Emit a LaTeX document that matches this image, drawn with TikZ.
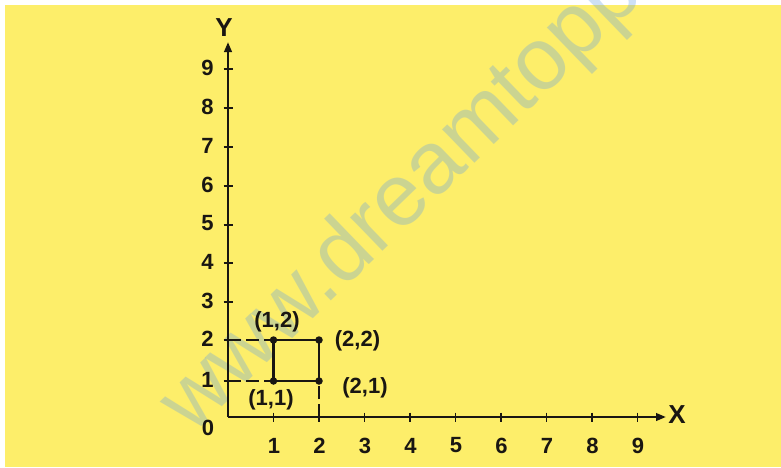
\documentclass[tikz,border=0pt]{standalone}
\usepackage{fontspec}
\setmainfont{Liberation Sans}
\usetikzlibrary{arrows.meta}
\definecolor{bgyellow}{RGB}{253,238,106}
\definecolor{ink}{RGB}{25,22,18}
\definecolor{wmblue}{RGB}{100,160,230}
\begin{document}
\begin{tikzpicture}[x=1pt,y=-1pt,
  wm/.style={text=wmblue, text opacity=0.32, font=\fontsize{88}{88}\selectfont, inner sep=0pt},
  axisline/.style={draw=ink, line width=2.4pt, -{Triangle[length=10pt,width=7.5pt]}},
  tickmark/.style={draw=ink, line width=1.8pt},
  lab/.style={text=ink, font=\bfseries\fontsize{22}{22}\selectfont, inner sep=0pt},
  axlab/.style={text=ink, font=\bfseries\fontsize{26}{26}\selectfont, inner sep=0pt},
  sqline/.style={draw=ink, line width=2.2pt},
  dashline/.style={draw=ink, line width=2pt, dash pattern=on 13pt off 5pt},
  dotnode/.style={circle, fill=ink, inner sep=0pt, minimum size=7.5pt}]
\useasboundingbox (0,0) rectangle (781,467);
\fill[white] (0,0) rectangle (781,467);
\fill[bgyellow] (5,5) rectangle (781,467);
% watermark
\begin{scope}
\clip (0,0) rectangle (781,467);
\node[wm, rotate=44, anchor=base west] (wmark) at (192,436) {www.dreamtoppers.com};
\end{scope}
% axes
\coordinate (O) at (228,417);
\coordinate (ytip) at (228,42);
\coordinate (xtip) at (666,417);
\draw[axisline] (O) -- (ytip);
\draw[axisline] (O) -- (xtip);
\node[axlab] (ylabel) at (224,28) {Y};
\node[axlab] (xlabel) at (677,415) {X};
\node[lab] (zero) at (208,428) {0};
\foreach \n/\x in {1/273.5,2/319,3/364.5,4/410,5/455.5,6/501,7/546.5,8/592,9/637.5}{
  \draw[tickmark] (\x,412.5) -- (\x,421.5);
  \node[lab] (xl\n) at (\x+0.5,445.5) {\n};
}
\foreach \n/\y in {1/381,2/340,3/302,4/263,5/225,6/186,7/147,8/108,9/69}{
  \draw[tickmark] (223.5,\y) -- (232.5,\y);
  \node[lab] (yl\n) at (207.5,\y-1.5) {\n};
}
% square
\coordinate (c11) at (273.5,381);
\coordinate (c21) at (319,381);
\coordinate (c22) at (319,340);
\coordinate (c12) at (273.5,340);
\coordinate (ya1) at (228,381);
\coordinate (ya2) at (228,340);
\coordinate (xa2) at (319,417);
\draw[dashline] (ya2) -- (c12);
\draw[dashline] (ya1) -- (c11);
\draw[dashline] (xa2) -- (c21);
\draw[sqline] (c11) -- (c21) -- (c22) -- (c12) -- cycle;
\node[dotnode] (p11) at (c11) {};
\node[dotnode] (p21) at (c21) {};
\node[dotnode] (p22) at (c22) {};
\node[dotnode] (p12) at (c12) {};
\node[lab] (l12) at (277,322) {(1,2)};
\node[lab] (l22) at (357.5,341) {(2,2)};
\node[lab] (l21) at (365,388) {(2,1)};
\node[lab] (l11) at (271,400) {(1,1)};
\end{tikzpicture}
\end{document}
